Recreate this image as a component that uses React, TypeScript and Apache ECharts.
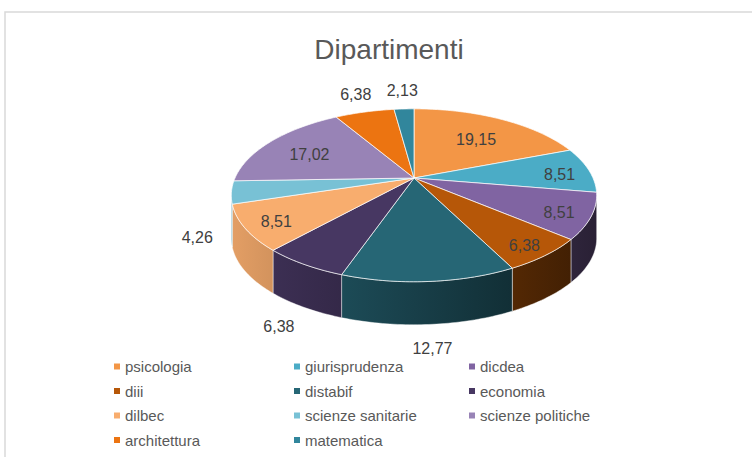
import React, { useEffect, useRef } from 'react';
import * as echarts from 'echarts';

const chartTitle = 'Dipartimenti';
const categories = ['psicologia', 'giurisprudenza', 'dicdea', 'diii', 'distabif', 'economia', 'dilbec', 'scienze sanitarie', 'scienze politiche', 'architettura', 'matematica'];
const values = [19.15, 8.51, 8.51, 6.38, 12.77, 6.38, 8.51, 4.26, 17.02, 6.38, 2.13];
const colors = ['#F39646', '#4BACC6', '#8064A2', '#B65708', '#266675', '#473762', '#F8AD6E', '#78C1D5', '#9883B6', '#EC7411', '#31869C'];
const labelPlacement = ['inside', 'inside', 'inside', 'inside', 'outside', 'outside', 'inside', 'outside', 'inside', 'outside', 'outside'];
const legendColumns = [[0, 3, 6, 9], [1, 4, 7, 10], [2, 5, 8]];

// 3D pie projection parameters
const CX = 414;
const CY = 178;
const RA = 179;
const RB = 83;
const K = 0.2;
const H = 43;
const FONT = '"Liberation Sans", Arial, sans-serif';

function shade(hex: string, f: number) {
  const n = parseInt(hex.slice(1), 16);
  const r = Math.round(((n >> 16) & 255) * f);
  const g = Math.round(((n >> 8) & 255) * f);
  const b = Math.round((n & 255) * f);
  return `rgb(${r},${g},${b})`;
}

function proj(phi: number, r: number, dz: number): [number, number] {
  const u = r * Math.sin(phi);
  const v = -r * Math.cos(phi);
  const w = 1 - K * v;
  return [CX + (RA * u) / w, CY + (RB * v) / w + dz];
}

function arc(a0: number, a1: number, r: number, dz: number) {
  const pts: [number, number][] = [];
  const n = Math.max(2, Math.ceil(Math.abs(a1 - a0) / (Math.PI / 180)));
  for (let i = 0; i <= n; i++) pts.push(proj(a0 + ((a1 - a0) * i) / n, r, dz));
  return pts;
}

const total = values.reduce((a, b) => a + b, 0);

export default function App() {
  const ref = useRef<HTMLDivElement>(null);
  useEffect(() => {
    document.body.style.margin = '0';
    const chart = echarts.init(ref.current!, null, { renderer: 'svg' });
    const vis0 = Math.acos(-K);
    const vis1 = 2 * Math.PI - vis0;

    const series = categories.map((name, i) => ({
      type: 'custom',
      name,
      coordinateSystem: 'none',
      itemStyle: { color: colors[i] },
      data: [[values[i]]],
      renderItem: (params: any, api: any) => {
        const val = api.value(0);
        const before = values.slice(0, i).reduce((a, b) => a + b, 0);
        const a0 = (before / total) * Math.PI * 2;
        const a1 = ((before + val) / total) * Math.PI * 2;
        const c = colors[i];
        const children: any[] = [];
        const topPts = [proj(0, 0, 0), ...arc(a0, a1, 1, 0)];
        const s = Math.max(a0, vis0);
        const e = Math.min(a1, vis1);
        if (s < e) {
          const wallPts = [...arc(s, e, 1, 0), ...arc(e, s, 1, H)];
          children.push({
            type: 'polygon',
            z2: 1,
            shape: { points: wallPts },
            style: {
              fill: {
                type: 'linear', x: CX - RA * 1.03, y: 0, x2: CX + RA * 1.03, y2: 0, global: true,
                colorStops: [
                  { offset: 0, color: shade(c, 0.92) },
                  { offset: 0.5, color: shade(c, 0.62) },
                  { offset: 1, color: shade(c, 0.32) },
                ],
              },
              stroke: 'rgba(255,255,255,0.55)',
              lineWidth: 0.8,
            },
          });
        }
        children.push({
          type: 'polygon',
          z2: 2,
          shape: { points: topPts },
          style: { fill: c, stroke: 'rgba(255,255,255,0.7)', lineWidth: 1 },
        });
        const mid = (a0 + a1) / 2;
        let lp: [number, number];
        if (labelPlacement[i] === 'inside') {
          lp = proj(mid, 0.95 - (val / total) * 100 * 0.014, 3);
        } else if (Math.cos(mid) > 0) {
          lp = proj(mid, 1.22, -6);
        } else {
          lp = proj(mid, 1.18, H);
        }
        children.push({
          type: 'text',
          z2: 3,
          style: {
            text: val.toFixed(2).replace('.', ','),
            x: lp[0],
            y: lp[1],
            fill: '#404040',
            font: `16px ${FONT}`,
            align: 'center',
            verticalAlign: 'middle',
          },
        });
        return { type: 'group', children };
      },
    }));

    const legendLefts = [114, 294, 469];
    const legend = legendColumns.map((col, ci) => ({
      orient: 'vertical',
      left: legendLefts[ci],
      top: 358,
      height: 110,
      padding: 0,
      icon: 'rect',
      itemWidth: 6,
      itemHeight: 6,
      itemGap: 7.5,
      selectedMode: false,
      data: col.map((k) => categories[k]),
      textStyle: { fontSize: 15, lineHeight: 17, color: '#595959', fontFamily: FONT },
    }));

    chart.setOption({
      animation: false,
      title: {
        text: chartTitle,
        left: 384,
        top: 30,
        textAlign: 'center',
        textStyle: { fontSize: 28, fontWeight: 'normal', color: '#595959', fontFamily: FONT },
      },
      legend,
      graphic: [
        {
          type: 'rect',
          silent: true,
          z: -10,
          shape: { x: 5, y: 12, width: 800, height: 500 },
          style: { fill: 'none', stroke: '#d9d9d9', lineWidth: 1.5 },
        },
      ],
      series,
    } as any);
    return () => chart.dispose();
  }, []);
  return <div ref={ref} style={{ width: 752, height: 457 }} />;
}
